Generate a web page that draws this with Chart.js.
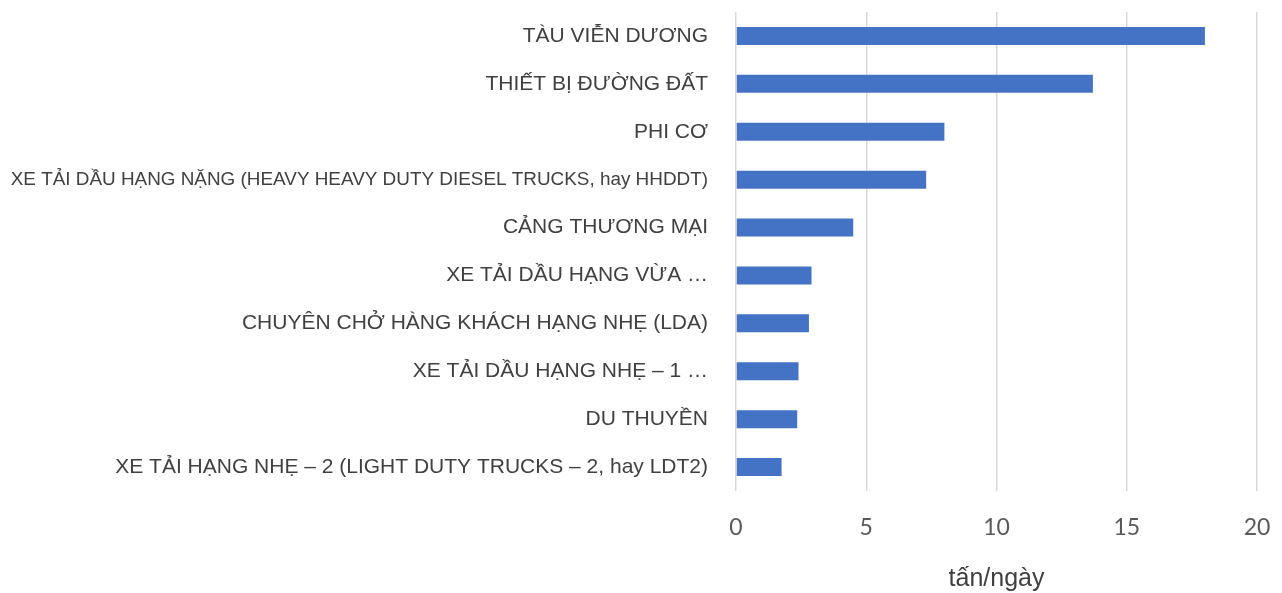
<!DOCTYPE html>
<html>
<head>
<meta charset="utf-8">
<script src="https://cdn.jsdelivr.net/npm/chart.js@4.4.1/dist/chart.umd.min.js"></script>
<style>
  html, body { margin: 0; padding: 0; background: #ffffff; }
  #wrap { width: 1282px; height: 593px; position: relative; }
</style>
</head>
<body>
<div id="wrap"><canvas id="c" width="1282" height="593"></canvas></div>
<script>
const categories = [
  "TÀU VIỄN DƯƠNG",
  "THIẾT BỊ ĐƯỜNG ĐẤT",
  "PHI CƠ",
  "XE TẢI DẦU HẠNG NẶNG (HEAVY HEAVY DUTY DIESEL TRUCKS, hay HHDDT)",
  "CẢNG THƯƠNG MẠI",
  "XE TẢI DẦU HẠNG VỪA …",
  "CHUYÊN CHỞ HÀNG KHÁCH HẠNG NHẸ (LDA)",
  "XE TẢI DẦU HẠNG NHẸ – 1 …",
  "DU THUYỀN",
  "XE TẢI HẠNG NHẸ – 2 (LIGHT DUTY TRUCKS – 2, hay LDT2)"
];
const values = [18.0, 13.7, 8.0, 7.3, 4.5, 2.9, 2.8, 2.4, 2.35, 1.75];
const xTicks = [0, 5, 10, 15, 20];
const xTitle = "tấn/ngày";

new Chart(document.getElementById('c'), {
  type: 'bar',
  data: {
    labels: categories,
    datasets: [{
      data: values,
      backgroundColor: '#4472C4',
      borderWidth: 0,
      barPercentage: 0.375,
      categoryPercentage: 1.0
    }]
  },
  options: {
    indexAxis: 'y',
    responsive: false,
    animation: false,
    layout: { padding: { top: 12, right: 25, left: 0, bottom: 0 } },
    plugins: { legend: { display: false }, tooltip: { enabled: false } },
    scales: {
      x: {
        min: xTicks[0],
        max: xTicks[xTicks.length - 1],
        afterBuildTicks: (axis) => { axis.ticks = xTicks.map(v => ({ value: v })); },
        afterFit: (axis) => {
          axis.height = 102;
          axis.paddingLeft = 0; axis.paddingRight = 0;
          axis.paddingTop = 0; axis.paddingBottom = 0;
        },
        grid: { color: '#d9d9d9', lineWidth: 1.5, drawTicks: false },
        border: { display: false },
        ticks: {
          padding: 23,
          color: '#595959',
          font: { family: 'Lato, "Open Sans", sans-serif', size: 23 }
        },
        title: {
          display: true,
          text: xTitle,
          color: '#404040',
          font: { family: '"Liberation Sans", Arial, sans-serif', size: 25, lineHeight: 1.1 },
          padding: { top: 0, bottom: 0 }
        }
      },
      y: {
        afterFit: (axis) => {
          axis.width = 736;
          axis.paddingLeft = 0; axis.paddingRight = 0;
          axis.paddingTop = 0; axis.paddingBottom = 0;
        },
        grid: { display: false, drawTicks: false },
        border: { display: false },
        ticks: {
          padding: 28,
          color: '#404040',
          autoSkip: false,
          font: (ctx) => ({
            family: '"Liberation Sans", Arial, sans-serif',
            size: (ctx.index === 3) ? 18.9 : 21
          })
        }
      }
    }
  }
});
</script>
</body>
</html>
